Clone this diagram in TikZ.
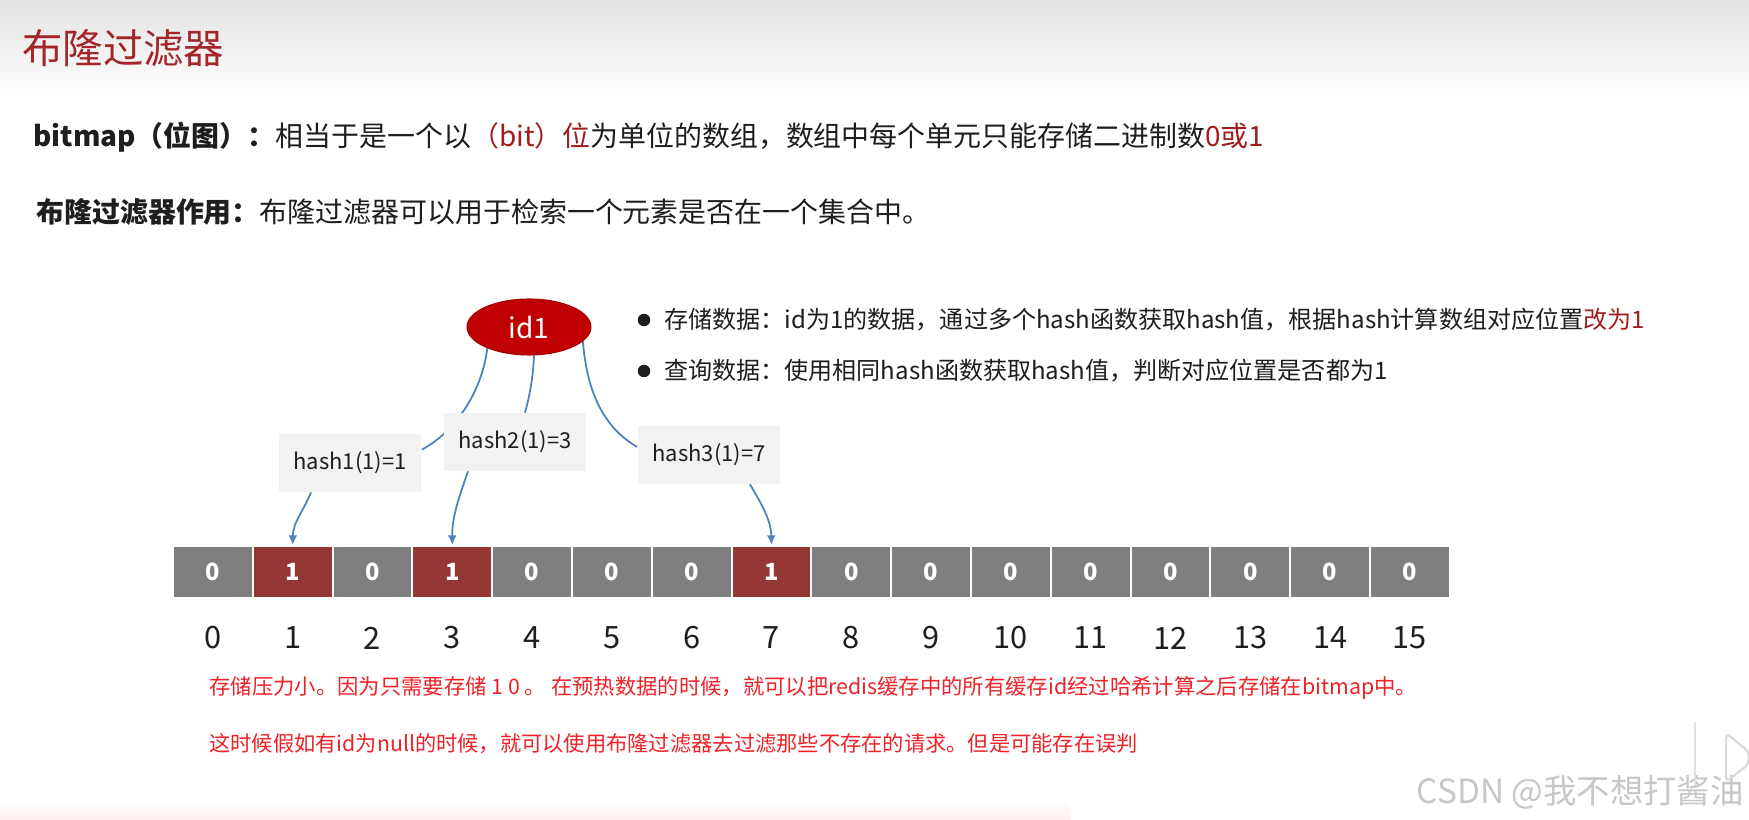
\documentclass[tikz,border=0pt]{standalone}
\usepackage{fontspec}
\setmainfont{Noto Sans CJK SC}
\usepackage{xcolor}
\usetikzlibrary{arrows.meta, positioning, shapes.geometric, calc, backgrounds}
\definecolor{titlered}{RGB}{163, 38, 42}
\definecolor{markred}{RGB}{160, 28, 30}
\definecolor{notered}{RGB}{238, 34, 40}
\definecolor{idred}{RGB}{192, 0, 0}
\definecolor{cellgray}{RGB}{127, 127, 127}
\definecolor{cellred}{RGB}{149, 55, 53}
\definecolor{hashgray}{RGB}{242, 242, 242}
\definecolor{linkblue}{RGB}{79, 129, 189}
\definecolor{textdark}{RGB}{30, 30, 30}
\begin{document}
\begin{tikzpicture}[x=0.02cm, y=-0.02cm,
  bitcell/.style={draw=white, line width=1.1pt, minimum width=1.596cm,
        minimum height=1.04cm, inner sep=0pt, text=white,
        font=\fontsize{13.5}{15}\selectfont\bfseries},
  hashbox/.style={fill=hashgray, minimum width=2.86cm, minimum height=1.16cm,
        inner sep=0pt, text=textdark, font=\fontsize{12.5}{15}\selectfont},
  idxlabel/.style={text=textdark, inner sep=0pt, font=\fontsize{17.5}{20}\selectfont},
  line/.style={anchor=west, inner sep=0pt, text=textdark},
  dot/.style={circle, fill=textdark, inner sep=0pt, minimum size=0.25cm},
  link/.style={linkblue, line width=1pt},
  hashto/.style={link, -{Latex[length=5.5pt, width=5pt]}}]
  \useasboundingbox (0,0) rectangle (1749,820);

  % heading and texts
  \node[line, text=titlered, font=\fontsize{23}{27}\selectfont] (title) at (22,48) {布隆过滤器};
  \node[line, font=\fontsize{15.9}{19}\selectfont] (bitmapline) at (33,137)
    {\textbf{bitmap（位图）：}相当于是一个以\textcolor{markred}{（bit）位}为单位的数组，数组中每个单元只能存储二进制数\textcolor{markred}{0或1}};
  \node[line, font=\fontsize{15.9}{19}\selectfont] (roleline) at (36,212)
    {\textbf{布隆过滤器作用：}布隆过滤器可以用于检索一个元素是否在一个集合中。};

  \node[dot] (dotstore) at (644,320) {};
  \node[line, font=\fontsize{13.7}{16}\selectfont] (store) at (664,320)
    {存储数据：id为1的数据，通过多个hash函数获取hash值，根据hash计算数组对应位置\textcolor{markred}{改为1}};
  \node[dot] (dotquery) at (644,371) {};
  \node[line, font=\fontsize{13.7}{16}\selectfont] (query) at (664,371)
    {查询数据：使用相同hash函数获取hash值，判断对应位置是否都为1};

  % element and hash functions
  \node[ellipse, fill=idred, draw=idred!85!black, line width=0.6pt,
        minimum width=2.48cm, minimum height=1.12cm, text=white,
        font=\fontsize{16}{19}\selectfont] (id1) at (529,327) {id1};
  \node[hashbox] (hashone) at (350,463) {hash1(1)=1};
  \node[hashbox] (hashtwo) at (515,442) {hash2(1)=3};
  \node[hashbox] (hashthree) at (709,455) {hash3(1)=7};

  % bit array
  \foreach \v [count=\i from 0] in {0,1,0,1,0,0,0,1,0,0,0,0,0,0,0,0} {
    \ifnum\v=1 \def\bitfill{cellred}\else\def\bitfill{cellgray}\fi
    \node[bitcell, fill=\bitfill] (cell\i) at ({212.9+79.8*\i},572) {\v};
    \node[idxlabel] (idx\i) at ({212.9+79.8*\i},638) {\i};
  }

  \draw[hashto] ($(hashone.south)+(-39,0)$) .. controls (303,512) and (293,522) .. (cell1.north);
  \draw[hashto] ($(hashtwo.south)+(-47,0)$) .. controls (459,497) and (452,517) .. (cell3.north);
  \draw[hashto] ($(hashthree.south)+(41,0)$) .. controls (762,505) and (771,520) .. (cell7.north);

  \begin{scope}[on background layer]
    \fill[white] (0,0) rectangle (1749,820);
    \shade[top color=black!11, bottom color=white] (0,0) rectangle (1749,100);
    \shade[top color=white, bottom color=red!6] (0,798) rectangle (1070,820);
    \draw[link] (id1.-153) .. controls (482,392) and (455,432) .. ($(hashone.north east)+(0,16)$);
    \draw[link] (id1.-80) .. controls (533,380) and (529,398) .. ($(hashtwo.north)+(10,0)$);
    \draw[link] (id1.-15) .. controls (588,405) and (612,432) .. ($(hashthree.west)+(0,-8)$);
  \end{scope}

  % notes
  \node[line, text=notered, font=\fontsize{12.15}{14}\selectfont] (noteone) at (209,688)
    {存储压力小。因为只需要存储 1 0 。 在预热数据的时候，就可以把redis缓存中的所有缓存id经过哈希计算之后存储在bitmap中。};
  \node[line, text=notered, font=\fontsize{12.1}{14}\selectfont] (notetwo) at (209,744)
    {这时候假如有id为null的时候，就可以使用布隆过滤器去过滤那些不存在的请求。但是可能存在误判};

  \node[line, anchor=east, text=black!22, font=\fontsize{19}{22}\selectfont] (mark) at (1744,792)
    {CSDN @我不想打酱油};
  \draw[black!12, line width=1pt] (1695,722) -- (1695,786);
  \draw[black!15, line width=1.2pt, rounded corners=3pt] (1726,733) -- (1749,752) -- (1749,764) -- (1726,782) -- cycle;
\end{tikzpicture}
\end{document}
